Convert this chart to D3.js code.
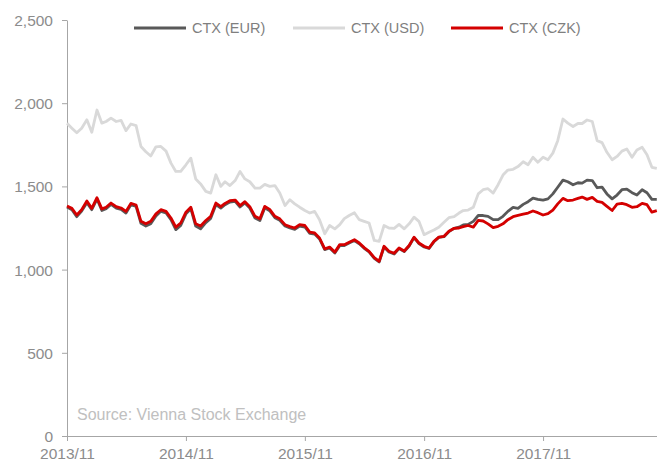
<!DOCTYPE html>
<html>
<head>
<meta charset="utf-8">
<script src="https://cdn.jsdelivr.net/npm/d3@7"></script>
<style>
  body { margin: 0; background: #fff; }
  svg { display: block; font-family: "Liberation Sans", Arial, sans-serif; }
</style>
</head>
<body>
<div id="chart"></div>
<script>
'use strict';

// semi-monthly observations, Nov 2013 .. Oct 2018
var dates = [
  "2013-11-01","2013-11-16","2013-12-01","2013-12-16",
  "2014-01-01","2014-01-16","2014-02-01","2014-02-16","2014-03-01","2014-03-16","2014-04-01","2014-04-16",
  "2014-05-01","2014-05-16","2014-06-01","2014-06-16","2014-07-01","2014-07-16","2014-08-01","2014-08-16",
  "2014-09-01","2014-09-16","2014-10-01","2014-10-16","2014-11-01","2014-11-16","2014-12-01","2014-12-16",
  "2015-01-01","2015-01-16","2015-02-01","2015-02-16","2015-03-01","2015-03-16","2015-04-01","2015-04-16",
  "2015-05-01","2015-05-16","2015-06-01","2015-06-16","2015-07-01","2015-07-16","2015-08-01","2015-08-16",
  "2015-09-01","2015-09-16","2015-10-01","2015-10-16","2015-11-01","2015-11-16","2015-12-01","2015-12-16",
  "2016-01-01","2016-01-16","2016-02-01","2016-02-16","2016-03-01","2016-03-16","2016-04-01","2016-04-16",
  "2016-05-01","2016-05-16","2016-06-01","2016-06-16","2016-07-01","2016-07-16","2016-08-01","2016-08-16",
  "2016-09-01","2016-09-16","2016-10-01","2016-10-16","2016-11-01","2016-11-16","2016-12-01","2016-12-16",
  "2017-01-01","2017-01-16","2017-02-01","2017-02-16","2017-03-01","2017-03-16","2017-04-01","2017-04-16",
  "2017-05-01","2017-05-16","2017-06-01","2017-06-16","2017-07-01","2017-07-16","2017-08-01","2017-08-16",
  "2017-09-01","2017-09-16","2017-10-01","2017-10-16","2017-11-01","2017-11-16","2017-12-01","2017-12-16",
  "2018-01-01","2018-01-16","2018-02-01","2018-02-16","2018-03-01","2018-03-16","2018-04-01","2018-04-16",
  "2018-05-01","2018-05-16","2018-06-01","2018-06-16","2018-07-01","2018-07-16","2018-08-01","2018-08-16",
  "2018-09-01","2018-09-16","2018-10-01","2018-10-16"
];

var ctxUsd = [
  1879,1850,1822,1849,1900,1825,1959,1880,1890,1910,1890,1897,1835,1875,1865,1740,
  1708,1683,1738,1740,1712,1640,1590,1590,1630,1670,1545,1515,1470,1460,1570,1500,
  1528,1505,1535,1590,1545,1528,1490,1490,1512,1500,1505,1460,1385,1420,1395,1375,
  1355,1340,1350,1300,1215,1265,1245,1270,1306,1325,1342,1300,1290,1280,1175,1170,
  1265,1250,1248,1272,1245,1275,1315,1290,1210,1225,1238,1255,1285,1312,1318,1340,
  1355,1358,1375,1455,1480,1486,1460,1510,1568,1598,1603,1619,1648,1630,1675,1645,
  1675,1660,1700,1775,1905,1880,1860,1878,1878,1899,1890,1775,1763,1705,1660,1680,
  1712,1725,1675,1719,1735,1690,1615,1609
];

var ctxEur = [
  1376,1360,1318,1352,1402,1360,1424,1355,1366,1392,1370,1362,1340,1390,1380,1278,
  1262,1276,1322,1350,1340,1300,1240,1266,1335,1366,1262,1245,1282,1308,1390,1370,
  1390,1406,1410,1376,1400,1370,1310,1295,1372,1354,1312,1296,1262,1250,1242,1262,
  1256,1218,1214,1184,1120,1130,1100,1144,1144,1160,1175,1155,1128,1106,1068,1046,
  1136,1106,1094,1126,1108,1142,1192,1156,1136,1127,1167,1193,1198,1228,1248,1255,
  1268,1272,1290,1325,1325,1320,1300,1300,1320,1350,1374,1368,1392,1408,1430,1422,
  1418,1425,1455,1495,1538,1528,1510,1522,1520,1538,1535,1492,1496,1455,1425,1448,
  1480,1484,1462,1448,1480,1462,1422,1422
];

var ctxCzk = [
  1382,1368,1328,1360,1412,1368,1432,1365,1375,1400,1378,1370,1350,1398,1388,1290,
  1275,1290,1335,1360,1350,1310,1255,1280,1345,1375,1275,1262,1295,1320,1400,1378,
  1398,1414,1418,1385,1408,1378,1320,1305,1380,1362,1320,1305,1270,1258,1250,1270,
  1265,1225,1220,1190,1125,1135,1105,1150,1150,1165,1180,1160,1132,1110,1072,1050,
  1140,1110,1098,1130,1112,1145,1195,1160,1140,1130,1170,1195,1200,1230,1248,1250,
  1258,1265,1255,1296,1292,1275,1252,1260,1275,1300,1318,1326,1333,1340,1352,1342,
  1328,1336,1358,1395,1428,1414,1418,1428,1436,1422,1434,1410,1404,1380,1355,1394,
  1398,1390,1374,1378,1398,1390,1345,1354
];

var seriesNames = ["CTX (EUR)", "CTX (USD)", "CTX (CZK)"];
var seriesColors = ["#595959", "#d9d9d9", "#d40000"];
var yTicks = [0, 500, 1000, 1500, 2000, 2500];
var xTicks = ["2013-11-01", "2014-11-01", "2015-11-01", "2016-11-01", "2017-11-01"];
var sourceNote = "Source: Vienna Stock Exchange";

var width = 658, height = 462,
    plotLeft = 67, plotRight = 657, plotTop = 20, plotBottom = 436;

var parse = d3.timeParse("%Y-%m-%d");
var dd = dates.map(parse);

var x = d3.scaleTime()
    .domain([parse("2013-11-01"), parse("2018-11-01")])
    .range([plotLeft, plotLeft + 5 * 119]);
var y = d3.scaleLinear().domain([0, 2500]).range([plotBottom, plotTop]);

var svg = d3.select("#chart").append("svg")
    .attr("width", width).attr("height", height);

// y axis
var yAxis = svg.append("g")
    .attr("transform", "translate(" + plotLeft + ",0)")
    .call(d3.axisLeft(y).tickValues(yTicks).tickFormat(d3.format(","))
        .tickSize(5).tickSizeOuter(0).tickPadding(9));

// x axis
var xAxis = svg.append("g")
    .attr("transform", "translate(0," + plotBottom + ")")
    .call(d3.axisBottom(x).tickValues(xTicks.map(parse))
        .tickFormat(d3.timeFormat("%Y/%m"))
        .tickSize(5).tickSizeOuter(0).tickPadding(7));
xAxis.select(".domain").attr("d", "M" + plotLeft + ",0.5H" + plotRight);

svg.selectAll(".domain, .tick line").attr("stroke", "#a6a6a6");
svg.selectAll(".tick text")
    .attr("fill", "#8c8c8c")
    .style("font-size", "15.5px");
yAxis.selectAll(".tick text").attr("dy", "0.36em");
xAxis.selectAll(".tick text").attr("dy", "0.72em");

// source note
svg.append("text")
    .attr("x", 77).attr("y", 420)
    .attr("fill", "#c0c0c0")
    .style("font-size", "16px")
    .text(sourceNote);

// lines: USD behind, EUR, then CZK on top
var line = d3.line()
    .x(function(d, i) { return x(dd[i]); })
    .y(function(d) { return y(d); });

var drawOrder = [[ctxUsd, 1], [ctxEur, 0], [ctxCzk, 2]];
drawOrder.forEach(function(s) {
    svg.append("path")
        .datum(s[0])
        .attr("fill", "none")
        .attr("stroke", seriesColors[s[1]])
        .attr("stroke-width", 2.8)
        .attr("stroke-linejoin", "round")
        .attr("d", line);
});

// legend
var legendX = [134, 293, 451];
var legend = svg.append("g").selectAll("g")
    .data(seriesNames)
    .enter().append("g")
    .attr("transform", function(d, i) { return "translate(" + legendX[i] + ",28)"; });

legend.append("line")
    .attr("x1", 0).attr("x2", 52)
    .attr("stroke", function(d, i) { return seriesColors[i]; })
    .attr("stroke-width", 3);

legend.append("text")
    .attr("x", 58).attr("dy", "0.35em")
    .attr("fill", "#7f7f7f")
    .style("font-size", "14.5px")
    .text(function(d) { return d; });
</script>
</body>
</html>
